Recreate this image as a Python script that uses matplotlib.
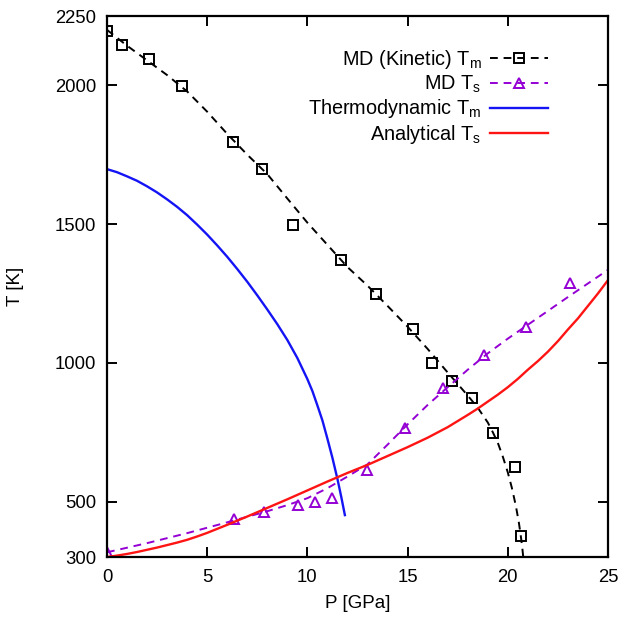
import matplotlib
matplotlib.use("Agg")
import matplotlib.pyplot as plt
from matplotlib.lines import Line2D

plt.rcParams['font.family'] = ['Liberation Sans', 'DejaVu Sans']
plt.rcParams['mathtext.fontset'] = 'custom'
plt.rcParams['mathtext.rm'] = 'Liberation Sans'
plt.rcParams['mathtext.it'] = 'Liberation Sans:italic'

# MD (Kinetic) Tm data points
md_tm_P = [0.0, 0.73, 2.1, 3.73, 6.28, 7.73, 9.27, 11.68, 13.43, 15.27, 16.23, 17.2, 18.23, 19.27, 20.35, 20.68]
md_tm_T = [2195, 2146, 2094, 1997, 1797, 1697, 1497, 1371, 1248, 1122, 998, 936, 874, 748, 623, 377]
# MD (Kinetic) Tm fit line
md_tm_fit_P = [0, 1, 2, 3, 4, 5, 6, 7, 8, 9, 10, 11, 12, 13, 14, 15, 16, 17, 18, 18.5, 19, 19.25, 19.5, 19.75, 20, 20.2, 20.4, 20.55, 20.65, 20.72, 20.77]
md_tm_fit_T = [2200, 2143, 2090, 2037, 1978, 1905, 1825, 1750, 1680, 1592, 1505, 1425, 1345, 1278, 1205, 1130, 1050, 965, 882, 838, 785, 750, 712, 662, 605, 550, 485, 425, 375, 335, 300]

# MD Ts data points
md_ts_P = [0.0, 6.35, 7.85, 9.52, 10.37, 11.23, 12.95, 14.85, 16.78, 18.82, 20.93, 23.1]
md_ts_T = [318, 437, 464, 487, 499, 511, 614, 764, 910, 1028, 1130, 1287]
# MD Ts fit line
md_ts_fit_P = [0, 2, 4, 6, 7, 8, 9, 10, 11, 12, 13, 14, 15, 16, 17, 18, 19, 20, 21, 22, 23, 24, 25]
md_ts_fit_T = [317, 350, 386, 425, 445, 465, 487, 512, 548, 590, 634, 705, 778, 848, 912, 975, 1034, 1087, 1137, 1187, 1237, 1286, 1335]

# Thermodynamic Tm
thermo_P = [0, 0.5, 1, 1.5, 2, 2.5, 3, 3.5, 4, 4.5, 5, 5.5, 6, 6.5, 7, 7.5, 8, 8.5, 9, 9.5, 10, 10.25, 10.5, 10.75, 11, 11.25, 11.5, 11.7, 11.87]
thermo_T = [1698, 1687, 1672, 1656, 1636, 1614, 1589, 1562, 1532, 1498, 1462, 1423, 1382, 1338, 1292, 1243, 1192, 1139, 1082, 1017, 941, 898, 846, 792, 726, 657, 581, 513, 451]

# Analytical Ts
anal_P = [0, 0.5, 1, 1.5, 2, 2.5, 3, 3.5, 4, 4.5, 5, 6, 7, 8, 9, 10, 11, 12, 13, 14, 15, 16, 17, 18, 18.5, 19, 19.5, 20, 20.5, 21, 21.5, 22, 22.5, 23, 23.5, 24, 24.5, 25]
anal_T = [300, 305, 311, 318, 326, 334, 343, 352, 362, 374, 387, 416, 446, 477, 508, 540, 572, 603, 632, 664, 696, 730, 768, 812, 835, 860, 885, 912, 942, 975, 1006, 1040, 1078, 1120, 1160, 1205, 1250, 1298]

x_ticks = [0, 5, 10, 15, 20, 25]
y_ticks = [300, 500, 1000, 1500, 2000, 2250]
labels = ['MD (Kinetic) $\\mathrm{T_m}$', 'MD $\\mathrm{T_s}$', 'Thermodynamic $\\mathrm{T_m}$', 'Analytical $\\mathrm{T_s}$']

purple = '#9400D3'
dash = (0, (4, 3))

fig = plt.figure(figsize=(6.21, 6.23), dpi=100)
ax = fig.add_axes([107/621, 1-557/623, (608-107)/621, (557-16)/623])

ax.plot(md_tm_fit_P, md_tm_fit_T, color='black', lw=1.4, ls=dash)
ax.plot(md_tm_P, md_tm_T, ls='none', marker='s', mfc='none', mec='black', ms=6.5, mew=1.4)
ax.plot(md_ts_fit_P, md_ts_fit_T, color=purple, lw=1.4, ls=dash)
ax.plot(md_ts_P, md_ts_T, ls='none', marker='^', mfc='none', mec=purple, ms=7, mew=1.4)
l3, = ax.plot(thermo_P, thermo_T, color='#1414f5', lw=1.7)
l4, = ax.plot(anal_P, anal_T, color='#ff1414', lw=1.7)

h1 = Line2D([], [], color='black', lw=1.4, ls=dash, marker='s', mfc='none', mec='black', ms=6.5, mew=1.4)
h2 = Line2D([], [], color=purple, lw=1.4, ls=dash, marker='^', mfc='none', mec=purple, ms=7, mew=1.4)

leg = ax.legend([h1, h2, l3, l4], labels,
                loc='upper right', bbox_to_anchor=((548-107)/501, (557-48)/541),
                borderaxespad=0, borderpad=0, frameon=False, markerfirst=False,
                fontsize=14.3, handlelength=2.9, handletextpad=0.45, labelspacing=0.13, numpoints=1,
                alignment='right')
for t in leg.get_texts():
    t.set_ha('right')

ax.set_xlim(0, 25)
ax.set_ylim(300, 2250)
ax.set_xticks(x_ticks)
ax.set_yticks(y_ticks)
ax.tick_params(direction='in', length=7, width=1.4, top=True, right=True, labelsize=13.3)
ax.tick_params(axis='x', pad=9)
ax.tick_params(axis='y', pad=8)
for s in ax.spines.values():
    s.set_linewidth(1.6)
ax.set_xlabel('P [GPa]', fontsize=13.5, labelpad=6)
ax.set_ylabel('T [K]', fontsize=13.5, labelpad=22)

fig.savefig('out.png', dpi=100)
